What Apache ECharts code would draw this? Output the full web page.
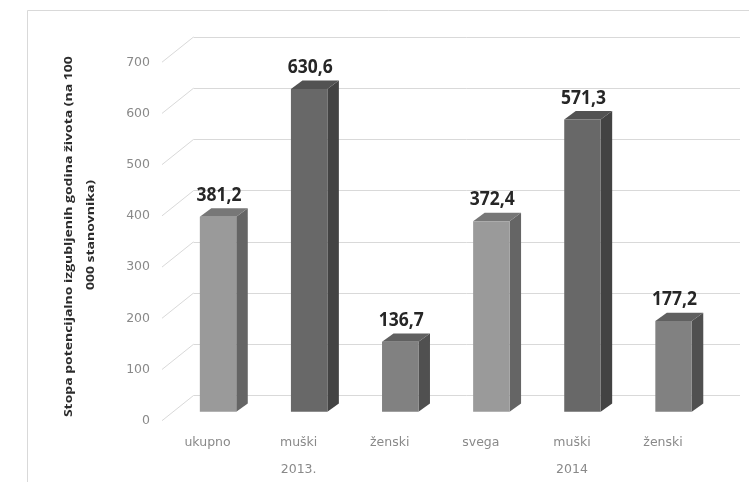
<!DOCTYPE html>
<html>
<head>
<meta charset="utf-8">
<script src="https://cdn.jsdelivr.net/npm/echarts@6/dist/echarts.min.js"></script>
<style>
  html, body { margin: 0; padding: 0; background: #ffffff; }
  #chart { width: 749px; height: 482px; }
</style>
</head>
<body>
<div id="chart"></div>
<script>
// Categories, groups and values
const categories = ['ukupno', 'muški', 'ženski', 'svega', 'muški', 'ženski'];
const years = ['2013.', '2014'];
const values = [381.2, 630.6, 136.7, 372.4, 571.3, 177.2];
const yMin = 0, yMax = 700, yStep = 100;
const titleLine1 = 'Stopa potencijalno izgubljenih godina života (na 100';
const titleLine2 = '000 stanovnika)';

// Fake 3-D depth: floor front edge -> back wall, and each bar's own depth
const FLOOR_DX = 31.5, FLOOR_DY = -25.2;
const BAR_DX = 11.5, BAR_DY = -8.4;

// Face shades per bar kind (total, male, female)
const shades = [
  { front: '#9a9a9a', side: '#656565', top: '#777777' },
  { front: '#686868', side: '#434343', top: '#525252' },
  { front: '#818181', side: '#505050', top: '#606060' }
];
const shadeOf = [0, 1, 2, 0, 1, 2];

const tickValues = [];
for (let v = yMin; v <= yMax; v += yStep) tickValues.push(v);

const fmt = v => v.toFixed(1).replace('.', ',');

function renderBar(params, api) {
  const i = api.value(0), v = api.value(1);
  const topP = api.coord([i, v]);
  const baseP = api.coord([i, 0]);
  const w = api.size([1, 0])[0] * 0.4;
  const x0 = topP[0] - w / 2, x1 = topP[0] + w / 2;
  const yT = topP[1], yB = baseP[1];
  const s = shades[shadeOf[i]];
  return {
    type: 'group',
    children: [
      { type: 'polygon', shape: { points: [[x1, yT], [x1 + BAR_DX, yT + BAR_DY], [x1 + BAR_DX, yB + BAR_DY], [x1, yB]] },
        style: { fill: s.side } },
      { type: 'polygon', shape: { points: [[x0, yT], [x0 + BAR_DX, yT + BAR_DY], [x1 + BAR_DX, yT + BAR_DY], [x1, yT]] },
        style: { fill: s.top } },
      { type: 'rect', shape: { x: x0, y: yT, width: w, height: yB - yT },
        style: { fill: s.front } },
      { type: 'text', x: topP[0] + 1, y: yT + BAR_DY - 3, scaleY: 1.08,
        style: { text: fmt(v), font: 'bold 17.5px "Open Sans"', fill: '#262626', align: 'center', verticalAlign: 'bottom' } }
    ]
  };
}

function renderDiagonal(params, api) {
  const p = api.coord([0, api.value(0)]);
  return {
    type: 'line',
    shape: { x1: p[0] - FLOOR_DX, y1: p[1] - FLOOR_DY, x2: p[0], y2: p[1] },
    style: { stroke: '#d9d9d9', lineWidth: 1 }
  };
}

const chart = echarts.init(document.getElementById('chart'), null, { renderer: 'canvas' });

const tickLabelStyle = { color: '#898989', fontFamily: 'DejaVu Sans', fontSize: 12.5 };
const titleFont = 'bold 11px "Open Sans"';

chart.setOption({
  animation: false,
  backgroundColor: '#ffffff',
  graphic: [
    { type: 'rect', shape: { x: 27.5, y: 10.5, width: 800, height: 600 },
      style: { fill: 'none', stroke: '#d9d9d9', lineWidth: 1 }, silent: true },
    { type: 'text', x: 68.5, y: 236.7, rotation: Math.PI / 2, scaleX: 1.27,
      style: { text: titleLine1, font: titleFont, fill: '#2b2b2b', align: 'center', verticalAlign: 'middle' } },
    { type: 'text', x: 91, y: 235, rotation: Math.PI / 2, scaleX: 1.27,
      style: { text: titleLine2, font: titleFont, fill: '#2b2b2b', align: 'center', verticalAlign: 'middle' } }
  ],
  grid: [
    // front plane: axis labels
    { left: 162, right: 40.4, top: 62.3, bottom: 61.3, outerBoundsMode: 'none' },
    // back wall: gridlines
    { left: 193.5, right: 9, top: 37, bottom: 86.5, outerBoundsMode: 'none' },
    // middle plane: bars
    { left: 172.5, right: 29.9, top: 53.5, bottom: 70.2, outerBoundsMode: 'none' }
  ],
  xAxis: [
    { gridIndex: 0, type: 'category', data: categories,
      axisLine: { show: false }, axisTick: { show: false }, splitLine: { show: false },
      axisLabel: Object.assign({ margin: 16, interval: 0 }, tickLabelStyle) },
    { gridIndex: 0, type: 'category', data: years, position: 'bottom', offset: 27,
      axisLine: { show: false }, axisTick: { show: false }, splitLine: { show: false },
      axisLabel: Object.assign({ margin: 16, interval: 0 }, tickLabelStyle) },
    { gridIndex: 1, type: 'value', min: 0, max: 1, show: false },
    { gridIndex: 2, type: 'category', data: categories, show: false }
  ],
  yAxis: [
    { gridIndex: 0, type: 'value', min: yMin, max: yMax, interval: yStep,
      axisLine: { show: false }, axisTick: { show: false }, splitLine: { show: false },
      axisLabel: Object.assign({ margin: 12 }, tickLabelStyle) },
    { gridIndex: 1, type: 'value', min: yMin, max: yMax, interval: yStep,
      axisLine: { show: false }, axisTick: { show: false }, axisLabel: { show: false },
      splitLine: { show: true, lineStyle: { color: '#d9d9d9', width: 1 } } },
    { gridIndex: 2, type: 'value', min: yMin, max: yMax, interval: yStep, show: false }
  ],
  series: [
    { type: 'custom', xAxisIndex: 2, yAxisIndex: 1, renderItem: renderDiagonal,
      data: tickValues.map(v => [v]), encode: { y: 0 }, silent: true, z: 1 },
    { type: 'custom', xAxisIndex: 3, yAxisIndex: 2, renderItem: renderBar,
      data: values.map((v, i) => [i, v]), encode: { x: 0, y: 1 }, z: 3 }
  ]
});
</script>
</body>
</html>
